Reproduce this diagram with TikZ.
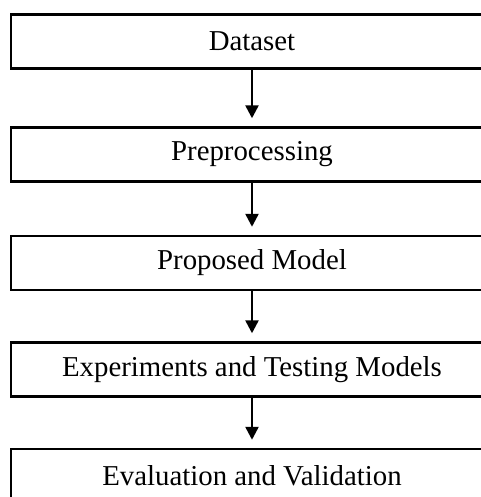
\documentclass[tikz,border=0pt]{standalone}
\usepackage{fontspec}
\setmainfont{Liberation Serif}
\usetikzlibrary{arrows.meta,positioning,calc}
\tikzset{every picture/.style={line width=2.1pt}}
\tikzset{
  stage/.style={draw, rectangle, minimum width=14.46cm, minimum height=1.62cm,
    inner sep=0pt, font=\fontsize{24.6}{29}\selectfont},
  flow/.style={-{Triangle[length=0.39cm,width=0.39cm]}, shorten >=0.24cm}
}

\begin{document}
\begin{tikzpicture}[x=0.03cm,y=-0.03cm]
    \useasboundingbox (0,0) rectangle (481,497);
    \clip (0,0) rectangle (481,497);
    \node[stage] (data) at (252,41.5) {Dataset};
    \node[stage] (prep) at (252,154.5) {Preprocessing};
    \node[stage] (model) at (252,263) {Proposed Model};
    \node[stage] (test) at (252,369.5) {Experiments and Testing Models};
    \node[stage] (eval) at (252,476) {Evaluation and Validation};
    \draw[flow] (data) -- (prep);
    \draw[flow] (prep) -- (model);
    \draw[flow] (model) -- (test);
    \draw[flow] (test) -- (eval);
\end{tikzpicture}
\end{document}
